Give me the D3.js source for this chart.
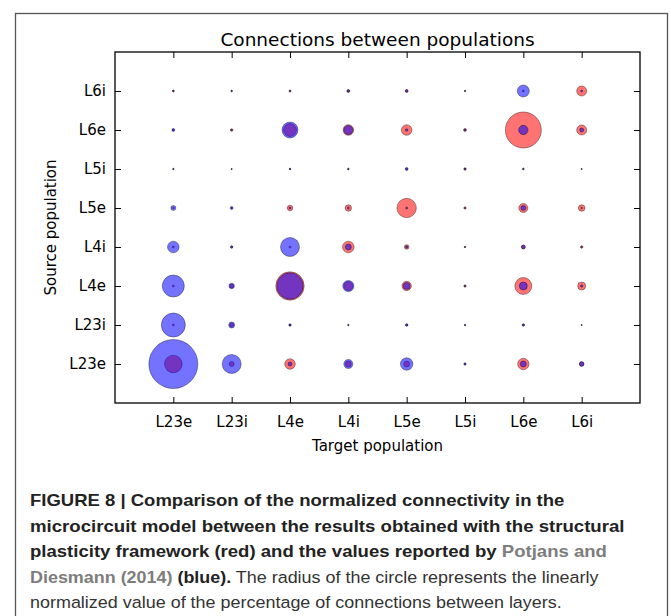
<!DOCTYPE html>
<html>
<head>
<meta charset="utf-8">
<script src="https://cdn.jsdelivr.net/npm/d3@7"></script>
<style>
  body { margin: 0; background: #fff; }
  svg { display: block; }
  .tick text { font-family: "DejaVu Sans", sans-serif; font-size: 15px; fill: #000; }
  .tick line { stroke: #000; stroke-width: 1; }
  .domain { display: none; }
</style>
</head>
<body>
<div id="scatter"></div>
<script>
// Connectivity bubble chart: source population (rows) vs target population (columns)

let svgWidth = 671;
let svgHeight = 616;

// plot frame inside the figure box
let plot = { left: 115, right: 640, top: 52, bottom: 403 };

// population labels, same order on both axes
let populations = ['L23e', 'L23i', 'L4e', 'L4i', 'L5e', 'L5i', 'L6e', 'L6i'];

// normalized values, one row per source population,
// one column per target population (L23e ... L6i)
// Potjans and Diesmann (2014), blue
let potjansValues = [
  [1.000, 0.388, 0.082, 0.184, 0.253, 0.049, 0.122, 0.090], // L23e
  [0.490, 0.122, 0.049, 0.029, 0.053, 0.029, 0.049, 0.024], // L23i
  [0.449, 0.110, 0.539, 0.229, 0.143, 0.033, 0.163, 0.049], // L4e
  [0.237, 0.049, 0.388, 0.122, 0.049, 0.024, 0.073, 0.033], // L4i
  [0.102, 0.061, 0.041, 0.041, 0.041, 0.024, 0.102, 0.033], // L5e
  [0.029, 0.024, 0.033, 0.033, 0.061, 0.041, 0.033, 0.024], // L5i
  [0.061, 0.033, 0.327, 0.184, 0.053, 0.041, 0.192, 0.082], // L6e
  [0.033, 0.029, 0.033, 0.049, 0.049, 0.024, 0.245, 0.041]  // L6i
];

// structural plasticity framework, red
let plasticityValues = [
  [0.359, 0.102, 0.216, 0.122, 0.122, 0.033, 0.233, 0.094], // L23e
  [0.041, 0.082, 0.041, 0.024, 0.041, 0.024, 0.041, 0.020], // L23i
  [0.041, 0.082, 0.580, 0.184, 0.192, 0.049, 0.347, 0.163], // L4e
  [0.041, 0.041, 0.041, 0.237, 0.094, 0.033, 0.082, 0.049], // L4i
  [0.033, 0.033, 0.114, 0.131, 0.396, 0.049, 0.184, 0.135], // L5e
  [0.024, 0.020, 0.033, 0.033, 0.041, 0.049, 0.033, 0.020], // L5i
  [0.041, 0.053, 0.265, 0.216, 0.216, 0.061, 0.735, 0.204], // L6e
  [0.041, 0.033, 0.041, 0.061, 0.061, 0.029, 0.041, 0.204]  // L6i
];

// caption lines, each a list of [text, style] pieces
let captionLines = [
  [['FIGURE 8 | Comparison of the normalized connectivity in the', 'b']],
  [['microcircuit model between the results obtained with the structural', 'b']],
  [['plasticity framework (red) and the values reported by ', 'b'], ['Potjans and', 'link']],
  [['Diesmann (2014)', 'link'], [' (blue).', 'b'], [' The radius of the circle represents the linearly', 'r']],
  [['normalized value of the percentage of connections between layers.', 'r']]
];
// right end of each caption line in the picture
let captionEnds = [565, 625, 607, 599, 562];

let svg = d3.select('#scatter')
  .append('svg')
  .attr('width', svgWidth)
  .attr('height', svgHeight);

// figure box (bottom edge runs off the page)
svg.append('rect')
  .attr('x', 15.5)
  .attr('y', 13.5)
  .attr('width', 652)
  .attr('height', 640)
  .attr('fill', 'none')
  .attr('stroke', '#555')
  .attr('stroke-width', 1.3);

// scales
let xScale = d3.scaleLinear().domain([-1, 8]).range([plot.left, plot.right]);
let yScale = d3.scaleLinear().domain([-1, 8]).range([plot.bottom, plot.top]);
let rScale = d3.scaleLinear().domain([0, 1]).range([0, 24.5]);

let idx = d3.range(populations.length);

// axes, ticks pointing inward like matplotlib classic
svg.append('g')
  .attr('transform', `translate(0, ${plot.bottom})`)
  .call(d3.axisBottom(xScale).tickValues(idx).tickFormat(i => populations[i])
    .tickSizeInner(-6).tickSizeOuter(0).tickPadding(13));

svg.append('g')
  .attr('transform', `translate(0, ${plot.top})`)
  .call(d3.axisTop(xScale).tickValues(idx).tickFormat('')
    .tickSizeInner(-6).tickSizeOuter(0));

svg.append('g')
  .attr('transform', `translate(${plot.left}, 0)`)
  .call(d3.axisLeft(yScale).tickValues(idx).tickFormat(i => populations[i])
    .tickSizeInner(-6).tickSizeOuter(0).tickPadding(9));

svg.append('g')
  .attr('transform', `translate(${plot.right}, 0)`)
  .call(d3.axisRight(yScale).tickValues(idx).tickFormat('')
    .tickSizeInner(-6).tickSizeOuter(0));

// flatten the matrices into points
function toPoints(matrix) {
  let pts = [];
  matrix.forEach((row, s) => row.forEach((v, t) => pts.push({ source: s, target: t, value: v })));
  return pts;
}

// red first, blue on top (overlap turns violet)
let series = [
  { name: 'plasticity', data: plasticityValues, color: '#ff0000' },
  { name: 'potjans', data: potjansValues, color: '#0000ff' }
];

series.forEach(function(s) {
  svg.append('g')
    .classed(s.name, true)
    .selectAll('circle')
    .data(toPoints(s.data))
    .enter()
    .append('circle')
    .attr('cx', d => xScale(d.target))
    .attr('cy', d => yScale(d.source))
    .attr('r', d => rScale(d.value))
    .attr('fill', s.color)
    .attr('fill-opacity', 0.55)
    .attr('stroke', '#000')
    .attr('stroke-opacity', 0.4)
    .attr('stroke-width', 0.9);
});

// plot frame
svg.append('rect')
  .attr('x', plot.left)
  .attr('y', plot.top)
  .attr('width', plot.right - plot.left)
  .attr('height', plot.bottom - plot.top)
  .attr('fill', 'none')
  .attr('stroke', '#000')
  .attr('stroke-width', 1.3);

// title and axis labels
svg.append('text')
  .attr('x', (plot.left + plot.right) / 2)
  .attr('y', 46)
  .attr('text-anchor', 'middle')
  .style('font-family', '"DejaVu Sans", sans-serif')
  .style('font-size', '18.5px')
  .text('Connections between populations');

svg.append('text')
  .attr('x', (plot.left + plot.right) / 2)
  .attr('y', 451)
  .attr('text-anchor', 'middle')
  .style('font-family', '"DejaVu Sans", sans-serif')
  .style('font-size', '15px')
  .text('Target population');

svg.append('text')
  .attr('transform', `translate(56, ${(plot.top + plot.bottom) / 2}) rotate(-90)`)
  .attr('text-anchor', 'middle')
  .style('font-family', '"DejaVu Sans", sans-serif')
  .style('font-size', '15px')
  .text('Source population');

// caption, each line squeezed to the width it has in the picture
let captionX = 30;
let captionTop = 506;
let captionStep = 25.5;

captionLines.forEach(function(line, i) {
  let t = svg.append('text')
    .attr('x', 0)
    .attr('y', 0)
    .style('font-family', '"Liberation Sans", Arial, sans-serif')
    .style('font-size', '16.5px');

  line.forEach(function(piece) {
    t.append('tspan')
      .attr('xml:space', 'preserve')
      .style('white-space', 'pre')
      .style('font-weight', piece[1] === 'r' ? 'normal' : 'bold')
      .attr('fill', piece[1] === 'link' ? '#7d7d7d' : (piece[1] === 'b' ? '#222' : '#333'))
      .text(piece[0]);
  });

  let w = t.node().getComputedTextLength();
  let k = (captionEnds[i] - captionX) / w;
  t.attr('transform', `translate(${captionX}, ${captionTop + i * captionStep}) scale(${k}, 1)`);
});
</script>
</body>
</html>
